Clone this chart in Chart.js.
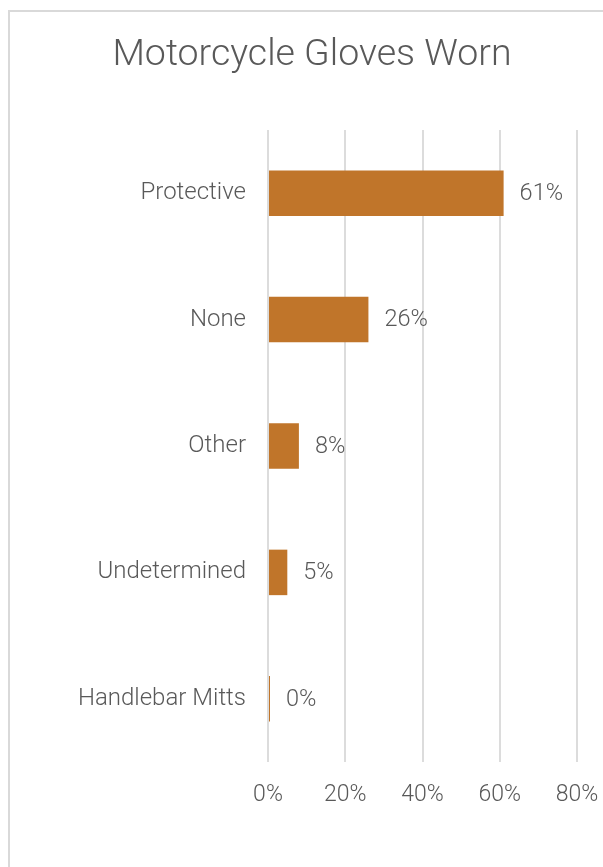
<!DOCTYPE html>
<html>
<head>
<meta charset="utf-8">
<title>Motorcycle Gloves Worn</title>
<script src="https://cdn.jsdelivr.net/npm/chart.js@4.4.1/dist/chart.umd.min.js"></script>
<style>
  html, body { margin: 0; padding: 0; background: #fff; overflow: hidden; }
  .frame {
    position: absolute; left: 8px; top: 10px; width: 700px; height: 900px;
    border-left: 2px solid #d9d9d9; border-top: 2px solid #d9d9d9;
  }
  .chart-container { position: absolute; left: 0; top: 0; width: 603px; height: 867px; }
</style>
</head>
<body>
<div class="frame"></div>
<div class="chart-container">
  <canvas id="gloves"></canvas>
</div>
<script>
const categories = ['Protective', 'None', 'Other', 'Undetermined', 'Handlebar Mitts'];
const shares = [61, 26, 8, 5, 0];
const xTicks = [0, 20, 40, 60, 80];

const TEXT = '#595959';

// value labels just past the end of each bar
const barLabels = {
  id: 'barLabels',
  afterDatasetsDraw(chart) {
    const ctx = chart.ctx;
    const meta = chart.getDatasetMeta(0);
    ctx.save();
    ctx.font = '300 23.5px Roboto';
    ctx.fillStyle = TEXT;
    ctx.textAlign = 'left';
    ctx.textBaseline = 'middle';
    meta.data.forEach((bar, i) => {
      ctx.fillText(shares[i] + '%', bar.x + 16, bar.y + 1);
    });
    ctx.restore();
  }
};

const canvas = document.getElementById('gloves');
const chart = new Chart(canvas, {
  type: 'bar',
  data: {
    labels: categories,
    datasets: [{
      label: 'Gloves',
      data: shares,
      backgroundColor: '#c0752a',
      borderWidth: 0,
      minBarLength: 2,
      categoryPercentage: 1,
      barPercentage: 0.36
    }]
  },
  options: {
    indexAxis: 'y',
    responsive: true,
    maintainAspectRatio: false,
    animation: false,
    // left/right padding keep the title centred over the plot + labels
    layout: { padding: { left: 47, right: 26, top: 0, bottom: 0 } },
    plugins: {
      legend: { display: false },
      tooltip: { enabled: false },
      title: {
        display: true,
        text: 'Motorcycle Gloves Worn',
        color: TEXT,
        font: { family: 'Roboto', size: 37.5, weight: '300', lineHeight: 1.2 },
        padding: { top: 33, bottom: 52 }
      }
    },
    scales: {
      x: {
        min: 0,
        max: 80,
        afterBuildTicks(scale) {
          scale.ticks = xTicks.map(v => ({ value: v }));
        },
        afterFit(scale) {
          scale.height = 105;
          scale.paddingLeft = 0;
          scale.paddingRight = 0;
        },
        grid: { color: '#dcdcdc', lineWidth: 2, drawTicks: false },
        border: { display: false },
        ticks: {
          padding: 19,
          color: TEXT,
          font: { family: 'Roboto', size: 23, weight: '300' },
          callback: v => v + '%'
        }
      },
      y: {
        afterFit(scale) { scale.width = 221; },
        grid: { display: false },
        border: { display: false },
        ticks: {
          padding: 14,
          color: TEXT,
          font: { family: 'Roboto', size: 24, weight: '300' }
        }
      }
    }
  },
  plugins: [barLabels]
});
</script>
</body>
</html>
